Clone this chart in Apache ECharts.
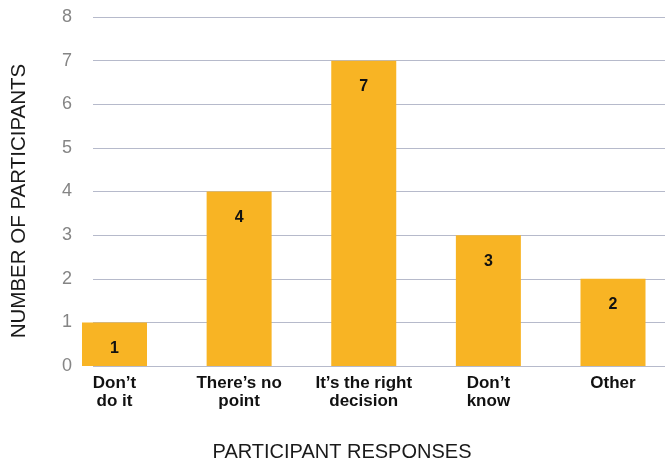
<!DOCTYPE html>
<html>
<head>
<meta charset="utf-8">
<script src="https://cdn.jsdelivr.net/npm/echarts@6/dist/echarts.min.js"></script>
<style>
  html, body { margin: 0; padding: 0; background: #ffffff; }
  #chart { width: 671px; height: 459px; }
</style>
</head>
<body>
<div id="chart"></div>
<script>
// Survey responses: number of participants per answer
const categories = ['Don\u2019t\ndo it', 'There\u2019s no\npoint', 'It\u2019s the right\ndecision', 'Don\u2019t\nknow', 'Other'];
const participants = [1, 4, 7, 3, 2];
const yTicks = { min: 0, max: 8, interval: 1 };
const yTitle = 'NUMBER OF PARTICIPANTS';
const xTitle = 'PARTICIPANT RESPONSES';

const font = '"Liberation Sans", Arial, Helvetica, sans-serif';
const barColor = '#F8B424';

const chart = echarts.init(document.getElementById('chart'), null, { renderer: 'canvas' });

chart.setOption({
  backgroundColor: '#ffffff',
  animation: false,
  grid: [
    // gridlines and value ticks
    { left: 93, right: 6, top: 17, bottom: 93 },
    // bars and category labels: first and last category sit on the grid edges
    { left: 114.5, right: 58, top: 17, bottom: 93 }
  ],
  xAxis: [
    { gridIndex: 0, type: 'value', show: false, min: 0, max: 1 },
    {
      gridIndex: 1,
      type: 'category',
      data: categories,
      boundaryGap: false,
      axisLine: { show: false },
      axisTick: { show: false },
      splitLine: { show: false },
      axisLabel: {
        margin: 8,
        color: '#111111',
        fontFamily: font,
        fontWeight: 'bold',
        fontSize: 17,
        lineHeight: 18,
        interval: 0
      }
    }
  ],
  yAxis: [
    {
      gridIndex: 0,
      type: 'value',
      min: yTicks.min,
      max: yTicks.max,
      interval: yTicks.interval,
      axisLine: { show: false },
      axisTick: { show: false },
      axisLabel: {
        margin: 21,
        color: '#858585',
        fontFamily: font,
        fontSize: 18
      },
      splitLine: { show: true, lineStyle: { color: '#b6bacb', width: 1 } }
    },
    {
      gridIndex: 1,
      type: 'value',
      show: false,
      min: yTicks.min,
      max: yTicks.max,
      interval: yTicks.interval
    }
  ],
  series: [
    {
      type: 'bar',
      xAxisIndex: 1,
      yAxisIndex: 1,
      data: participants,
      barWidth: 65,
      clip: false,
      itemStyle: { color: barColor },
      label: {
        show: true,
        position: 'insideTop',
        distance: 18,
        color: '#111111',
        fontFamily: font,
        fontWeight: 'bold',
        fontSize: 16
      }
    }
  ],
  graphic: [
    {
      type: 'text',
      x: 19,
      y: 201,
      rotation: Math.PI / 2,
      style: {
        text: yTitle,
        fill: '#1a1a1a',
        font: '20.5px ' + font,
        textAlign: 'center',
        textVerticalAlign: 'middle'
      }
    },
    {
      type: 'text',
      x: 342,
      y: 452,
      style: {
        text: xTitle,
        fill: '#1a1a1a',
        font: '20px ' + font,
        textAlign: 'center',
        textVerticalAlign: 'middle'
      }
    }
  ]
});
</script>
</body>
</html>
